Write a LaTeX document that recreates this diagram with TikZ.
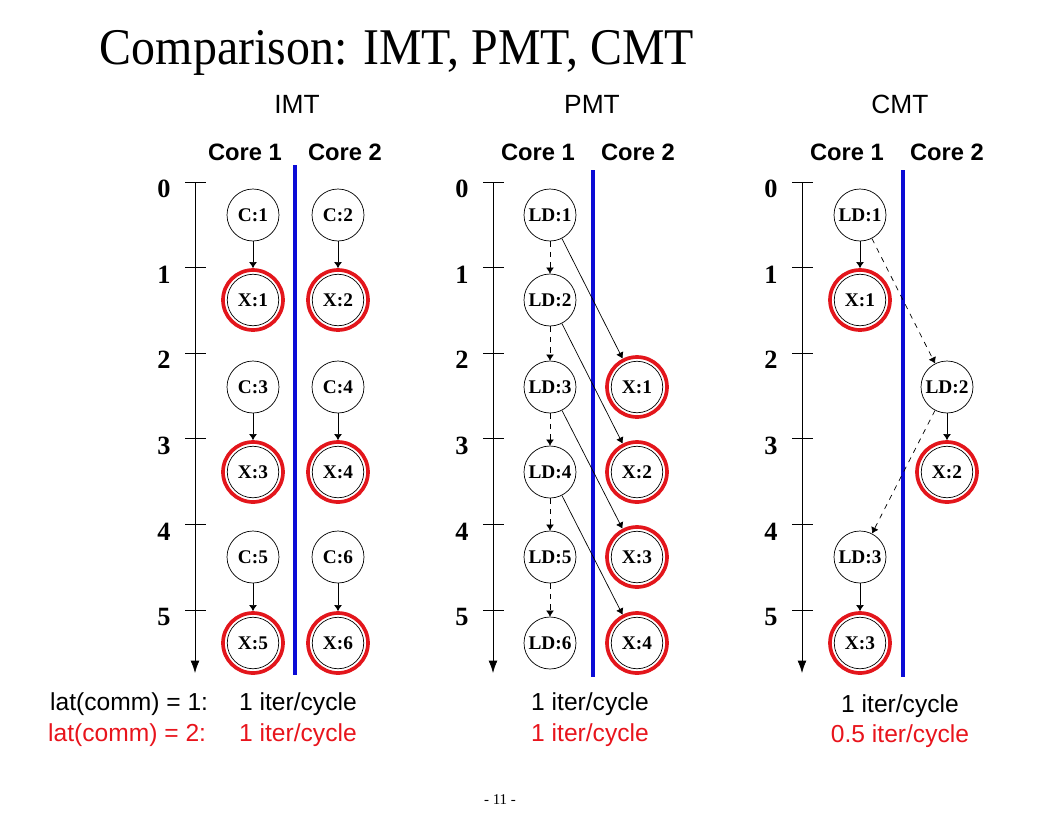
\documentclass[tikz,border=0pt]{standalone}
\usepackage{fontspec}
\setmainfont{Liberation Serif}
\setsansfont{Liberation Sans}
\usetikzlibrary{arrows.meta}
\definecolor{ringred}{HTML}{E3161C}
\definecolor{coreblue}{HTML}{0B0BD6}
\definecolor{latred}{HTML}{E8141C}

\tikzset{
    job/.style={circle, draw, thin, minimum size=1.04cm, inner sep=0pt,
        font=\fontsize{11}{11}\selectfont\bfseries},
    exe/.style={circle, draw=ringred, line width=2.1pt, minimum size=1.2cm, inner sep=0pt,
        font=\fontsize{11}{11}\selectfont\bfseries,
        path picture={\draw[black, thin] (path picture bounding box.center) circle (0.515cm);}},
    dep/.style={-{Latex[length=3.5pt,width=4.5pt]}, thin},
    comm/.style={dep, dashed},
    core/.style={font=\sffamily\bfseries\fontsize{13.5}{14}\selectfont},
    mode/.style={font=\sffamily\fontsize{15}{16}\selectfont},
    rate/.style={font=\sffamily\fontsize{14}{15}\selectfont},
    tick/.style={font=\bfseries\fontsize{15}{15}\selectfont},
    split/.style={coreblue, line width=2.2pt}
}

\begin{document}
\begin{tikzpicture}[x=0.02cm, y=-0.02cm]
    \useasboundingbox (0,0) rectangle (1056,816);

    \node[xscale=0.93] (title) at (397,53) {\fontsize{29.3}{30}\selectfont Comparison: IMT, PMT, CMT};
    \node[mode] (imt) at (297,104) {IMT};
    \node[mode] (pmt) at (592,104) {PMT};
    \node[mode] (cmt) at (900,104) {CMT};

    % time axes with cycle ticks
    \foreach \ax / \p in {195/i, 493/p, 802/c} {
        \draw[-{Latex[length=7pt,width=5pt]}] (\ax,182) -- (\ax,673);
        \foreach \t in {0,...,5} {
            \draw (\ax-10,182+85.6*\t) -- (\ax+11,182+85.6*\t);
            \node[tick] (\p t\t) at (\ax-31,189+85.6*\t) {\t};
        }
    }

    % core headers and separators
    \foreach \a / \b / \p in {245/345/i, 538/638/p, 847/947/c} {
        \node[core] (\p core1) at (\a,152) {Core 1};
        \node[core] (\p core2) at (\b,152) {Core 2};
    }
    \draw[split] (295,165) -- (295,675);
    \draw[split] (593,170) -- (593,677);
    \draw[split] (903,170) -- (903,677);

    % IMT
    \node[job] (ic1) at (253,215) {C:1};
    \node[job] (ic2) at (338,215) {C:2};
    \node[exe] (ix1) at (253,300) {X:1};
    \node[exe] (ix2) at (338,300) {X:2};
    \node[job] (ic3) at (253,387) {C:3};
    \node[job] (ic4) at (338,387) {C:4};
    \node[exe] (ix3) at (253,472) {X:3};
    \node[exe] (ix4) at (338,472) {X:4};
    \node[job] (ic5) at (253,557) {C:5};
    \node[job] (ic6) at (338,557) {C:6};
    \node[exe] (ix5) at (253,643) {X:5};
    \node[exe] (ix6) at (338,643) {X:6};
    \foreach \i in {1,...,6}
        \draw[dep] (ic\i) -- (ix\i);

    % PMT
    \node[job] (pl1) at (550,215) {LD:1};
    \node[job] (pl2) at (550,300) {LD:2};
    \node[job] (pl3) at (550,387) {LD:3};
    \node[job] (pl4) at (550,472) {LD:4};
    \node[job] (pl5) at (550,557) {LD:5};
    \node[job] (pl6) at (550,643) {LD:6};
    \node[exe] (px1) at (637,387) {X:1};
    \node[exe] (px2) at (637,472) {X:2};
    \node[exe] (px3) at (637,557) {X:3};
    \node[exe] (px4) at (637,643) {X:4};
    \foreach \i / \j in {1/2, 2/3, 3/4, 4/5, 5/6}
        \draw[comm] (pl\i) -- (pl\j);
    \foreach \i in {1,...,4}
        \draw[dep] (pl\i) -- (px\i);

    % CMT
    \node[job] (cl1) at (860,215) {LD:1};
    \node[exe] (cx1) at (860,300) {X:1};
    \node[job] (cl2) at (947,387) {LD:2};
    \node[exe] (cx2) at (947,472) {X:2};
    \node[job] (cl3) at (860,557) {LD:3};
    \node[exe] (cx3) at (860,643) {X:3};
    \draw[dep] (cl1) -- (cx1);
    \draw[dep] (cl2) -- (cx2);
    \draw[dep] (cl3) -- (cx3);
    \draw[comm] (cl1) -- (cl2);
    \draw[comm] (cl2) -- (cl3);

    % throughput
    \node[rate, anchor=west] (lat1) at (44,704) {lat(comm) = 1:};
    \node[rate, anchor=west] (ir1) at (233,704) {1 iter/cycle};
    \node[rate, anchor=west, latred] (lat2) at (42,735) {lat(comm) = 2:};
    \node[rate, anchor=west, latred] (ir2) at (233,735) {1 iter/cycle};
    \node[rate] (pr1) at (590,704) {1 iter/cycle};
    \node[rate, latred] (pr2) at (590,735) {1 iter/cycle};
    \node[rate] (cr1) at (900,706) {1 iter/cycle};
    \node[rate, latred] (cr2) at (900,736) {0.5 iter/cycle};

    \node (page) at (500,800) {\fontsize{8.5}{9}\selectfont - 11 -};
\end{tikzpicture}
\end{document}
